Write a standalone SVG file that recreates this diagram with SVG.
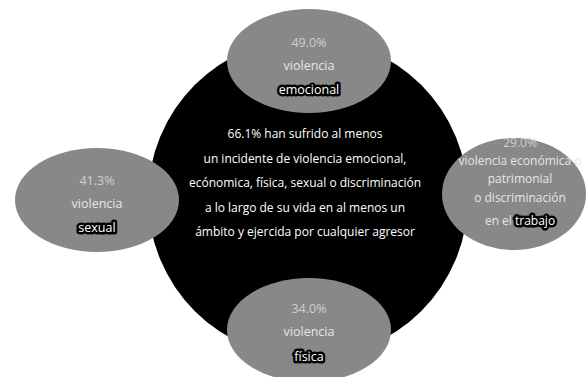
<svg xmlns="http://www.w3.org/2000/svg" width="588" height="377" viewBox="0 0 588 377">
<style>
text{font-family:"Open Sans","Noto Sans","DejaVu Sans",sans-serif;text-anchor:middle}
.c{fill:#ffffff;font-size:12px}
.bub{fill:#888888}
.p{fill:#cfcfcf;font-size:12.5px}
.v{fill:#e6e6e6;font-size:12.5px}
.r{font-size:12px}
.h{fill:#ffffff;stroke:#000;stroke-width:5;stroke-linejoin:round;paint-order:stroke}
</style>
<rect width="588" height="377" fill="#ffffff"/>
<g id="center">
<circle cx="308" cy="198" r="160" fill="#000000"/>
<text class="c" x="305" y="138">66.1% han sufrido al menos</text>
<text class="c" x="305" y="163">un incidente de violencia emocional,</text>
<text class="c" x="305" y="187">ecónomica, física, sexual o discriminación</text>
<text class="c" x="305" y="212">a lo largo de su vida en al menos un</text>
<text class="c" x="305" y="236">ámbito y ejercida por cualquier agresor</text>
</g>
<g id="connectors"></g>
<g id="emocional">
<ellipse class="bub" cx="309" cy="61" rx="82" ry="52"/>
<text class="p" x="309" y="47">49.0%</text>
<text class="v" x="309" y="70">violencia</text>
<text class="v h" x="309" y="94">emocional</text>
</g>
<g id="sexual">
<ellipse class="bub" cx="97" cy="200" rx="82" ry="52"/>
<text class="p" x="97" y="185">41.3%</text>
<text class="v" x="97" y="208">violencia</text>
<text class="v h" x="97" y="232">sexual</text>
</g>
<g id="trabajo">
<ellipse class="bub" cx="514" cy="194" rx="72" ry="56"/>
<text class="p r" x="520" y="147">29.0%</text>
<text class="v r" x="520" y="165">violencia económica o</text>
<text class="v r" x="520" y="183">patrimonial</text>
<text class="v r" x="520" y="202">o discriminación</text>
<text class="v r" x="520" y="225">en el <tspan class="h">trabajo</tspan></text>
</g>
<g id="fisica">
<ellipse class="bub" cx="309" cy="330" rx="82" ry="52"/>
<text class="p" x="309" y="313">34.0%</text>
<text class="v" x="309" y="336">violencia</text>
<text class="v h" x="309" y="361">física</text>
</g>
</svg>
